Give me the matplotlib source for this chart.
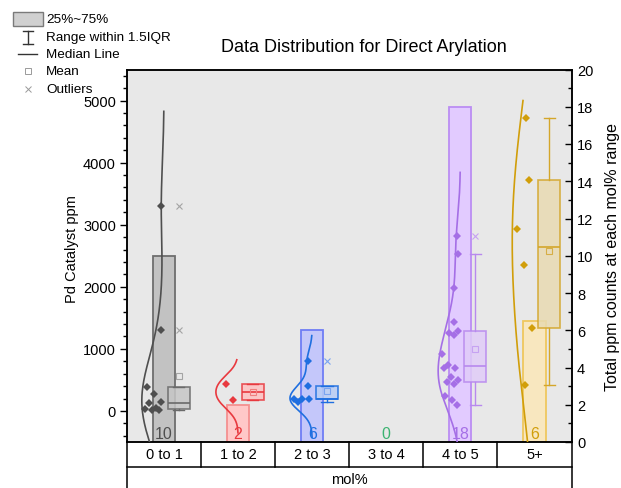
import numpy as np
import matplotlib
matplotlib.use('Agg')
import matplotlib.pyplot as plt
from matplotlib.lines import Line2D
from matplotlib.patches import Rectangle
from matplotlib.ticker import MultipleLocator

plt.rcParams['font.family'] = ['Liberation Sans', 'DejaVu Sans']

# ---------------- data ----------------
categories = ['0 to 1', '1 to 2', '2 to 3', '3 to 4', '4 to 5', '5+']
ppm_0_1 = [3300, 1300, 380, 270, 140, 130, 40, 30, 20, 10]
ppm_1_2 = [440, 172]
ppm_2_3 = [800, 400, 190, 188, 185, 140]
ppm_3_4 = []
ppm_4_5 = [2823, 2527, 1973, 1430, 1295, 1258, 1221, 924, 742, 698, 698,
           548, 505, 473, 440, 247, 182, 102]
ppm_5p = [4726, 3715, 2924, 2355, 1344, 414]
groups = [ppm_0_1, ppm_1_2, ppm_2_3, ppm_3_4, ppm_4_5, ppm_5p]
count_labels = ['10', '2', '6', '0', '18', '6']
bar_heights = [10, 2, 6, 0, 18, 6.5]

line_colors = ['#4F4F4F', '#E8393F', '#1F6FE0', '#3CB371', '#A56FE6', '#D19E0A']
bar_fills = ['#C2C2C2', '#FFC8C8', '#C4C7FA', '#C8F0D8', '#E2CBFF', '#F8E7BF']
bar_edges = ['#6E6E6E', '#F59090', '#6F7DF5', '#7FD39F', '#BB8DF3', '#EFC75E']
box_edges = ['#6A6A6A', '#E8393F', '#1F6FE0', '#3CB371', '#B889EE', '#D4A62A']
box_fills = ['#C6C6C6', '#FFC0C0', '#B8CCF5', '#C8F0D8', '#E0CCF8', '#E8DBB2']
light_colors = ['#A4A4A4', '#F07E7E', '#7AA4F0', '#7FD39F', '#C6A2F2', '#D6AE45']

KDE_CAP = 5000.0

W = 621.0
H = 489.0
fig = plt.figure(figsize=(W / 100, H / 100), dpi=100)
ax = fig.add_axes([127 / W, 1 - 443 / H, (571.5 - 127) / W, (443 - 70.5) / H])
ax2 = ax.twinx()
ax.set_zorder(ax2.get_zorder() + 1)
ax.patch.set_visible(False)
ax2.patch.set_visible(True)
ax2.patch.set_facecolor('#E8E8E8')

ax.set_xlim(-0.5, len(categories) - 0.5)
ax.set_ylim(-500, 5500)
ax2.set_ylim(0, 20)

# ---------------- bars (counts) ----------------
x = np.arange(len(categories))
ax2.bar(x, bar_heights, width=0.3, color=bar_fills, edgecolor=bar_edges,
        linewidth=1.3, zorder=1)
for i, lab in enumerate(count_labels):
    ax2.text(x[i], 0.05, lab, ha='center', va='bottom', fontsize=11.5,
             color=line_colors[i], zorder=5)


def hinge_stats(v):
    s = np.sort(np.asarray(v, float))
    n = len(s)
    lower = s[:(n + 1) // 2]
    upper = s[n // 2:]
    q1 = np.median(lower)
    q3 = np.median(upper)
    iqr = q3 - q1
    inside = s[(s >= q1 - 1.5 * iqr) & (s <= q3 + 1.5 * iqr)]
    return dict(med=np.median(s), q1=q1, q3=q3, whislo=inside.min(),
                whishi=inside.max(),
                fliers=s[(s < q1 - 1.5 * iqr) | (s > q3 + 1.5 * iqr)],
                mean=s.mean())


def kde_curve(v):
    v = np.asarray(v, float)
    n = len(v)
    bw = 1.06 * v.std(ddof=1) * n ** -0.2
    grid = np.linspace(v.min() - 3.0 * bw, min(v.max() + 2.2 * bw, KDE_CAP), 400)
    dens = np.exp(-0.5 * ((grid[:, None] - v[None, :]) / bw) ** 2).sum(axis=1)
    return grid, dens / dens.max()


golden = 0.6180339887
for i, vals in enumerate(groups):
    if len(vals) == 0:
        continue
    c = line_colors[i]
    # half violin
    g, d = kde_curve(vals)
    ax.plot(x[i] - 0.3 * d, g, color=c, lw=1.2, zorder=3)
    # jittered points inside violin
    v = np.asarray(vals, float)
    dv = np.interp(v, g, d)
    frac = ((np.arange(len(v)) + 1) * golden) % 1.0
    ax.plot(x[i] - 0.02 - frac * 0.26 * dv, v, linestyle='none', marker='D',
            markersize=4, color=c, markeredgewidth=0, zorder=4)
    # box
    st = hinge_stats(vals)
    ax.bxp([st], positions=[x[i] + 0.2], widths=0.3, capwidths=0.15,
           patch_artist=True, showmeans=True, showfliers=True,
           boxprops=dict(facecolor=box_fills[i], edgecolor=box_edges[i],
                         linewidth=1.2, alpha=0.85),
           medianprops=dict(color=box_edges[i], linewidth=1.2),
           whiskerprops=dict(color=box_edges[i], linewidth=1.0),
           capprops=dict(color=box_edges[i], linewidth=1.0),
           meanprops=dict(marker='s', markersize=5, markerfacecolor='none',
                          markeredgecolor=light_colors[i], markeredgewidth=0.8),
           flierprops=dict(marker='x', markersize=5, markeredgecolor=light_colors[i],
                           markeredgewidth=0.8),
           manage_ticks=False)

# ---------------- axes styling ----------------
ax.set_xticks([])
ax.yaxis.set_major_locator(MultipleLocator(1000))
ax.yaxis.set_minor_locator(MultipleLocator(200))
ax.set_yticks(np.arange(0, 5001, 1000))
ax.tick_params(axis='y', which='major', direction='out', length=5, width=1.0,
               labelsize=10.5, pad=3)
ax.tick_params(axis='y', which='minor', direction='out', length=3, width=1.0)
ax2.yaxis.set_major_locator(MultipleLocator(2))
ax2.yaxis.set_minor_locator(MultipleLocator(1))
ax2.tick_params(axis='y', which='major', direction='in', length=5, width=1.0,
                labelsize=10.5, pad=4)
ax2.tick_params(axis='y', which='minor', direction='in', length=3, width=1.0)
for a in (ax, ax2):
    for sp in a.spines.values():
        sp.set_linewidth(1.1)
        sp.set_color('black')

ax.set_ylabel('Pd Catalyst ppm', fontsize=10.5)
ax2.set_ylabel('Total ppm counts at each mol% range', fontsize=11.5)
axw = 571.5 - 127
ax.yaxis.set_label_coords((79 - 127) / axw, 0.52)
ax2.yaxis.set_label_coords((604.5 - 127) / axw, 0.5)

# ---------------- category table below the axes ----------------
axh = 443 - 70.5
row1 = -25 / axh
bottom = -50 / axh
tr = ax.transAxes
n = len(categories)
for k in range(n + 1):
    xf = k / n
    yb = bottom if k in (0, n) else row1
    ax.add_line(Line2D([xf, xf], [0, yb], transform=tr, color='black', lw=1.1,
                       clip_on=False))
ax.add_line(Line2D([0, 1], [row1, row1], transform=tr, color='black', lw=1.1,
                   clip_on=False))
for k, lab in enumerate(categories):
    ax.text((k + 0.5) / n, row1 / 2, lab, transform=tr, ha='center', va='center',
            fontsize=10.5)
ax.text(0.5, -37 / axh, 'mol%', transform=tr, ha='center', va='center',
        fontsize=10.5)

# ---------------- title ----------------
fig.text(364 / W, 1 - 48 / H, 'Data Distribution for Direct Arylation',
         ha='center', va='center', fontsize=13)

# ---------------- legend (figure coords) ----------------
ft = fig.transFigure
def fx(px):
    return px / W
def fy(py):
    return 1 - py / H

fig.patches.append(Rectangle((fx(12.5), fy(27.3)), fx(42.7) - fx(12.5), fy(12.7) - fy(27.3),
                             transform=ft, facecolor='#D0D0D0', edgecolor='#7A7A7A', lw=1.0))
fig.lines.append(Line2D([fx(28), fx(28)], [fy(32), fy(45)], transform=ft, color='#333333', lw=1.0))
fig.lines.append(Line2D([fx(23), fx(33)], [fy(32), fy(32)], transform=ft, color='#333333', lw=1.0))
fig.lines.append(Line2D([fx(23), fx(33)], [fy(45), fy(45)], transform=ft, color='#333333', lw=1.0))
fig.lines.append(Line2D([fx(18), fx(37)], [fy(55), fy(55)], transform=ft, color='#333333', lw=1.0))
fig.lines.append(Line2D([fx(28)], [fy(72)], transform=ft, linestyle='none', marker='s',
                        markersize=4, markerfacecolor='none', markeredgecolor='#9A9A9A',
                        markeredgewidth=0.7))
fig.lines.append(Line2D([fx(28)], [fy(90)], transform=ft, linestyle='none', marker='x',
                        markersize=4, markeredgecolor='#9A9A9A', markeredgewidth=0.7))
legend_texts = ['25%~75%', 'Range within 1.5IQR', 'Median Line', 'Mean', 'Outliers']
for t, yy in zip(legend_texts, [20, 38, 55, 72, 90]):
    fig.text(fx(46), fy(yy), t, ha='left', va='center', fontsize=9.7)

fig.savefig('out.png', dpi=100)
